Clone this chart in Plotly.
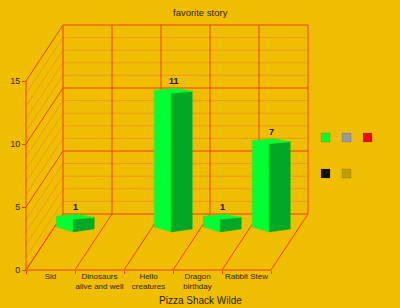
import plotly.graph_objects as go

# ---- data ----
categories = ["Sid", "Dinosaurs<br>alive and well", "Hello<br>creatures", "Dragon<br>birthday", "Rabbit Stew"]
values = [1, 0, 11, 1, 7]
y_ticks = [0, 5, 10, 15]
legend_colors = ["#00FF33", "#999999", "#FF0000", "#111111", "#BFA000"]

title = "favorite story"
x_title = "Pizza Shack Wilde"

# ---- style ----
BG = "#F0BE00"
MAJOR = "#F03C1E"
MINOR = "#EC9A1C"
GREEN = "#00FF33"
DARK = "#00A826"
TXT = "#2a1f00"
FONT = "Liberation Sans, Arial, sans-serif"

W, H = 400, 308
PX_U = 49.0      # pixels per category
PX_V = 12.6      # pixels per value unit
X0, Y0 = 26.0, 270.0   # pixel of origin (front)
DEPTH_PX = (37.0, 56.0)
DX = DEPTH_PX[0] / PX_U
DV = DEPTH_PX[1] / PX_V
VMAX = 15
N = len(categories)

def P(u, d, v):
    return u + DX * d, v + DV * d

traces = []

def add_lines(segs, color):
    xs, ys = [], []
    for (a, b) in segs:
        xs += [a[0], b[0], None]
        ys += [a[1], b[1], None]
    traces.append(go.Scatter(x=xs, y=ys, mode="lines", line=dict(color=color, width=1),
                             hoverinfo="skip", showlegend=False))

minor, major = [], []
for v in range(0, VMAX + 1):
    # back wall horizontal
    seg_back = (P(0, 1, v), P(N, 1, v))
    # left wall
    seg_left = (P(0, 0, v), P(0, 1, v))
    tgt = major if v % 5 == 0 else minor
    tgt.append(seg_back)
    tgt.append(seg_left)
for u in range(0, N + 1):
    major.append((P(u, 1, 0), P(u, 1, VMAX)))   # back wall verticals
    major.append((P(u, 0, 0), P(u, 1, 0)))      # floor diagonals
major.append((P(0, 0, 0), P(N, 0, 0)))          # front x axis
major.append((P(0, 0, 0), P(0, 0, VMAX)))       # front y axis

add_lines(minor, MINOR)
add_lines(major, MAJOR)

# ---- bars ----
BAR_D = 0.68
FOFF = -0.05
LT = (-17 / PX_U, 3 / PX_V)
RT = (21 / PX_U, 2 / PX_V)
LB = (-17 / PX_U, 5 / PX_V)
RB = (21 / PX_U, 3 / PX_V)

annotations = []
for i, val in enumerate(values):
    if not val:
        continue
    fu, fv = P(i + 0.5 + FOFF, BAR_D, 0)
    f0 = (fu, fv)
    f1 = (fu, fv + val)
    l0 = (fu + LB[0], fv + LB[1])
    r0 = (fu + RB[0], fv + RB[1])
    l1 = (fu + LT[0], fv + val + LT[1])
    r1 = (fu + RT[0], fv + val + RT[1])
    b1 = (fu + LT[0] + RT[0], fv + val + LT[1] + RT[1])
    for poly, col in [([f0, l0, l1, f1], GREEN), ([f0, r0, r1, f1], DARK), ([f1, l1, b1, r1], GREEN)]:
        traces.append(go.Scatter(x=[p[0] for p in poly] + [poly[0][0]],
                                 y=[p[1] for p in poly] + [poly[0][1]],
                                 mode="lines", fill="toself", fillcolor=col,
                                 line=dict(color=col, width=0.5),
                                 hoverinfo="skip", showlegend=False))
    annotations.append(dict(x=fu + 0.05, y=b1[1], xref="x", yref="y", text=str(val),
                            showarrow=False, yanchor="bottom", yshift=0,
                            font=dict(family=FONT, size=9, color="#111", weight="bold")))

annotations.append(dict(x=0.5, y=1 - 12 / H, xref="paper", yref="paper", text=title,
                        showarrow=False, yanchor="middle",
                        font=dict(family=FONT, size=9.5, color=TXT)))
annotations.append(dict(x=0.5, y=1 - 300 / H, xref="paper", yref="paper", text=x_title,
                        showarrow=False, yanchor="middle",
                        font=dict(family=FONT, size=10, color=TXT)))

# ---- legend swatches (no text) ----
shapes = []
sw_pos = [(321, 133), (342, 133), (363, 133), (321, 169), (342, 169)]
for (px, py), col in zip(sw_pos, legend_colors):
    shapes.append(dict(type="rect", xref="paper", yref="paper",
                       x0=px / W, x1=(px + 9) / W, y0=1 - (py + 9) / H, y1=1 - py / H,
                       fillcolor=col, line=dict(width=0.5, color="rgba(0,0,0,0.25)")))

fig = go.Figure(traces)
fig.update_layout(
    width=W, height=H, margin=dict(l=0, r=0, t=0, b=0),
    paper_bgcolor=BG, plot_bgcolor=BG, showlegend=False,
    annotations=annotations, shapes=shapes,
    xaxis=dict(range=[-X0 / PX_U, (W - X0) / PX_U], showgrid=False, zeroline=False,
               showline=False, anchor="free", position=(H - Y0) / H,
               tickvals=[i + 0.5 for i in range(N)], ticktext=categories, ticks="",
               tickfont=dict(family=FONT, size=8, color=TXT),
               minor=dict(tickvals=list(range(N + 1)), ticks="outside", ticklen=3,
                          tickcolor=MAJOR, tickwidth=1),
               fixedrange=True, automargin=False),
    yaxis=dict(range=[-(H - Y0) / PX_V, Y0 / PX_V], showgrid=False, zeroline=False,
               showline=False, anchor="free", position=X0 / W,
               tickvals=y_ticks, ticks="outside", ticklen=4, tickcolor=MAJOR,
               tickfont=dict(family=FONT, size=9, color=TXT),
               fixedrange=True, automargin=False),
)
fig.write_html("out.html")
